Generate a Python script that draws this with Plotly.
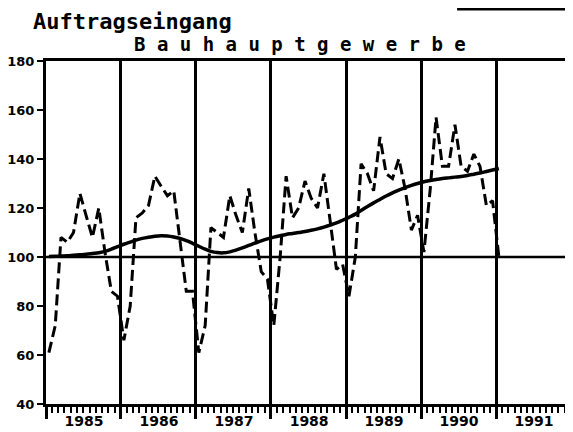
import pandas as pd
import plotly.graph_objects as go

# Monthly order intake index (Jan 1985 .. Jan 1991)
orders = [61, 72, 108, 106, 110, 126, 117, 108, 120, 102, 86, 84,
          66, 80, 116, 118, 121, 133, 129, 125, 127, 106, 86, 86,
          61, 72, 112, 110, 108, 125, 117, 110, 128, 110, 94, 91,
          72, 100, 133, 116, 120, 131, 124, 120, 134, 115, 95, 97,
          84, 100, 138, 134, 127, 149, 134, 132, 140, 128, 111, 117,
          102, 128, 157, 137, 137, 154, 137, 135, 142, 137, 121, 123,
          100]

# Smoothed trend line
trend = [100.2, 100.3, 100.4, 100.5, 100.7, 100.9, 101.1, 101.4, 101.7, 102.3, 103.2, 104.2,
         105.2, 106.1, 106.9, 107.6, 108.1, 108.5, 108.7, 108.6, 108.2, 107.6, 106.7, 105.6,
         104.4, 103.2, 102.3, 101.8, 101.7, 102.1, 102.8, 103.7, 104.7, 105.7, 106.6, 107.4,
         108.1, 108.7, 109.2, 109.6, 110.0, 110.4, 110.9, 111.5, 112.2, 113.0, 113.9, 115.0,
         116.2, 117.5, 119.0, 120.6, 122.1, 123.5, 124.9, 126.2, 127.3, 128.3, 129.2, 130.0,
         130.7, 131.2, 131.6, 132.0, 132.3, 132.6, 132.9, 133.3, 133.8, 134.3, 134.9, 135.5,
         136.1]

years = ["1985", "1986", "1987", "1988", "1989", "1990", "1991"]
baseline = 100

dates = pd.date_range("1985-01-01", periods=len(orders), freq="MS") + pd.Timedelta(days=14)
year_starts = [f"{y}-01-01" for y in years] + ["1992-01-01"]
year_mids = [f"{y}-07-05" for y in years]
x_range = [year_starts[0], year_starts[-1]]

# the page body adds an 8px margin, so the figure is 8px smaller
W, H = 565, 424

fig = go.Figure()
fig.add_trace(go.Scatter(x=dates, y=orders, mode="lines",
                         line=dict(color="black", width=3, dash="11px,5px"),
                         showlegend=False))
fig.add_trace(go.Scatter(x=dates, y=trend, mode="lines", xaxis="x2",
                         line=dict(color="black", width=3.5, shape="spline"),
                         showlegend=False))

fig.add_shape(type="line", xref="paper", x0=0, x1=1, yref="y", y0=baseline, y1=baseline,
              line=dict(color="black", width=2.5), layer="above")
# short legend-like line at the top right
fig.add_shape(type="line", xref="paper", x0=0.783, x1=0.994, yref="paper", y0=1.152, y1=1.152,
              line=dict(color="black", width=3.5))

fig.update_layout(
    width=W, height=H,
    margin=dict(l=38, r=2, t=53, b=28, autoexpand=False),
    paper_bgcolor="white", plot_bgcolor="white",
    title=dict(text="Auftragseingang", x=25 / W, xanchor="left", xref="container",
               y=1 - 13 / H, yanchor="middle", yref="container",
               font=dict(family="DejaVu Sans Mono", size=22, weight="bold", color="black")),
    xaxis=dict(type="date", range=x_range, tickmode="array", tickvals=year_starts,
               showticklabels=False, automargin=False,
               showgrid=True, gridcolor="black", gridwidth=2.5,
               ticks="outside", ticklen=12, tickwidth=2.5, tickcolor="black",
               minor=dict(ticks="outside", ticklen=6, tickwidth=1.5, tickcolor="black",
                          dtick="M1", tick0="1985-01-01", showgrid=False),
               showline=True, mirror=True, linewidth=3, linecolor="black",
               zeroline=False),
    xaxis2=dict(type="date", range=x_range, overlaying="x", anchor="y", side="bottom",
                tickmode="array", tickvals=year_mids, ticktext=years, automargin=False,
                ticks="outside", ticklen=4, tickcolor="rgba(0,0,0,0)",
                showgrid=False, showline=False, zeroline=False,
                tickfont=dict(family="DejaVu Sans", size=14, weight="bold", color="black")),
    yaxis=dict(range=[40, 180], tickmode="linear", tick0=40, dtick=20, automargin=False,
               ticks="outside", ticklen=6, tickwidth=2, tickcolor="black",
               showgrid=False, zeroline=False,
               showline=True, mirror=True, linewidth=3, linecolor="black",
               tickfont=dict(family="DejaVu Sans", size=13, weight="bold", color="black")),
    annotations=[dict(text="B a u h a u p t g e w e r b e", xref="paper", yref="paper",
                      x=(292 - 38) / 525, y=1, xanchor="center", yanchor="bottom", yshift=4,
                      showarrow=False,
                      font=dict(family="DejaVu Sans Mono", size=19, weight="bold",
                                color="black"))],
)

fig.write_html("out.html")
